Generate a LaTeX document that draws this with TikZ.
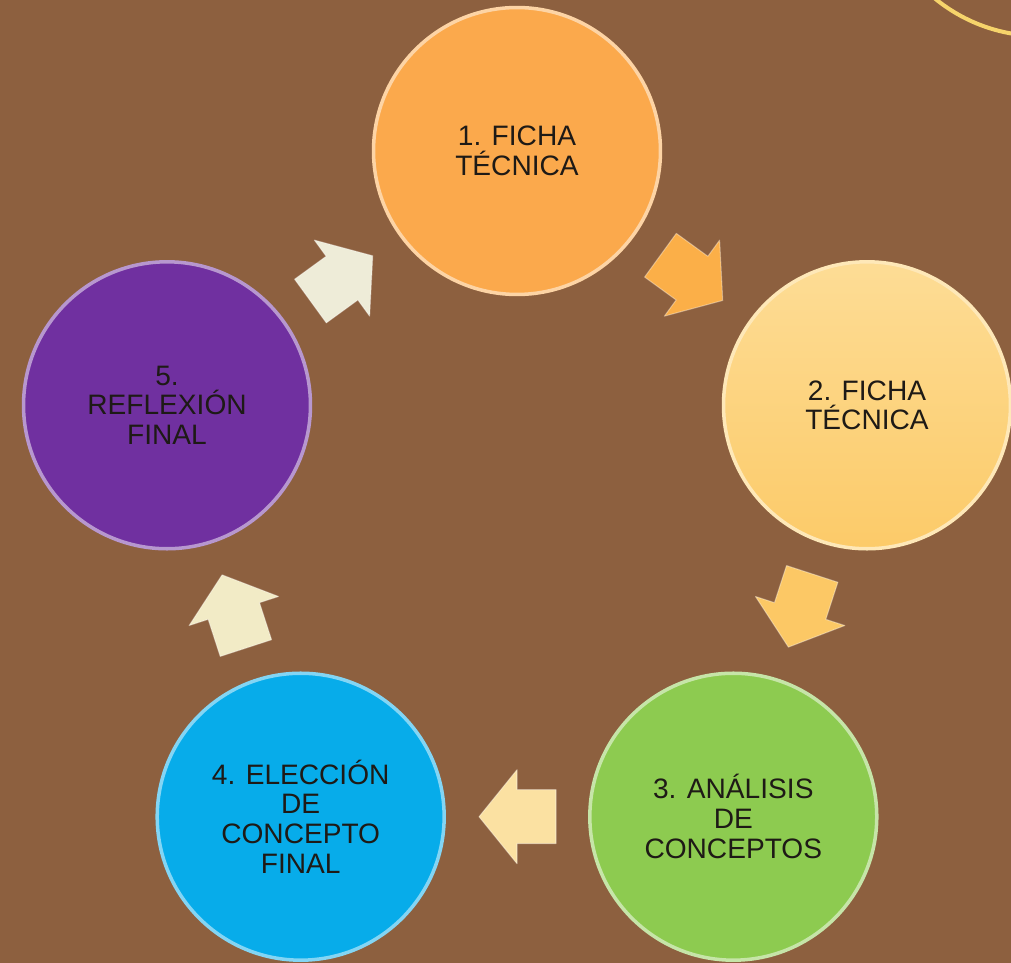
\documentclass[tikz,border=0pt]{standalone}
\usepackage{fontspec}
\setmainfont{Liberation Sans}
\usetikzlibrary{calc}

\definecolor{bgbrown}{HTML}{8D603F}
\definecolor{ringgold}{HTML}{F6D46B}
\definecolor{inktext}{HTML}{1E1A16}
\definecolor{stageone}{HTML}{FBA94C}
\definecolor{stagetwo}{HTML}{FCD172}
\definecolor{stagethree}{HTML}{8DCB50}
\definecolor{stagefour}{HTML}{07ACEA}
\definecolor{stagefive}{HTML}{7030A0}
\definecolor{arrowone}{HTML}{FBAF48}
\definecolor{arrowtwo}{HTML}{FCC865}
\definecolor{arrowthree}{HTML}{FBE1A2}
\definecolor{arrowfour}{HTML}{F2EBC6}
\definecolor{arrowfive}{HTML}{EEECD8}

\tikzset{
  stage/.style={circle, minimum size=5.74cm, inner sep=0pt, align=center,
    text=inktext, font=\fontsize{16}{17}\selectfont,
    fill=#1, draw=#1!50!white, line width=2pt},
  blockarrow/.style={draw=white, draw opacity=0.35, line width=0.6pt, line join=round}
}

\begin{document}
\begin{tikzpicture}[x=0.02cm, y=0.02cm]
            % background and frame of the slide
            \fill[bgbrown] (-517,-444) rectangle (494,519);
            \clip (-517,-444) rectangle (494,519);
            \draw[ringgold, line width=0.08cm] (523,649) circle (166);

            % the five stages, round a pentagon
            \node[stage=stageone] (fc1) at (90:368) {1. FICHA\\TÉCNICA};
            \node[stage=stagetwo, top color=stagetwo!75!white, bottom color=stagetwo!92!orange] (fc2) at (18:368) {2. FICHA\\TÉCNICA};
            \node[stage=stagethree] (fc3) at (-54:368) {3. ANÁLISIS\\DE\\CONCEPTOS};
            \node[stage=stagefour] (fc4) at (-126:368) {4. ELECCIÓN\\DE\\CONCEPTO\\FINAL};
            \node[stage=stagefive] (fc5) at (162:368) {5.\\REFLEXIÓN\\FINAL};

            % block arrows between the stages
            \foreach \from/\to/\ang/\col in {fc1/fc2/-36/arrowone, fc2/fc3/-108/arrowtwo, fc3/fc4/180/arrowthree, fc4/fc5/108/arrowfour, fc5/fc1/36/arrowfive}
                {
                    \path[blockarrow, fill=\col, shift={($(\from)!0.5!(\to)$)}, rotate=\ang]
                        (-39,-27) -- (0,-27) -- (0,-47) -- (38,0) -- (0,47) -- (0,27) -- (-39,27) -- cycle;
                }
        \end{tikzpicture}
\end{document}
